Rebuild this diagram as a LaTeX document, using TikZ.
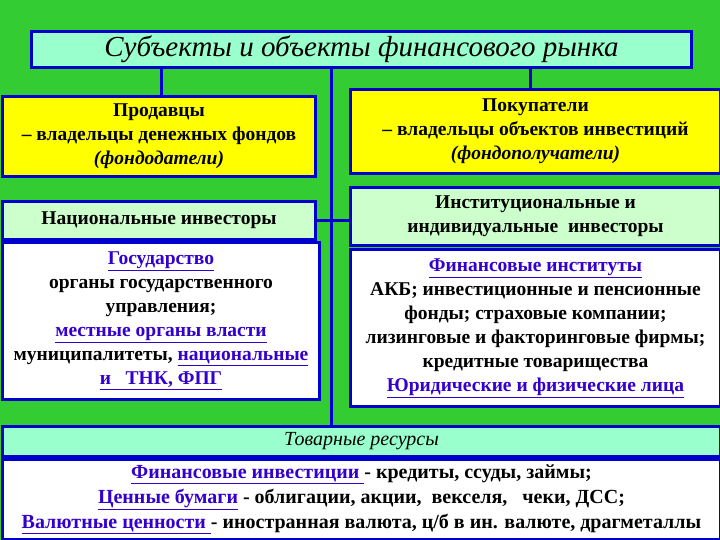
\documentclass[tikz,border=0pt]{standalone}
\usepackage{fontspec}
\setmainfont{Liberation Serif}
\definecolor{bg}{RGB}{51,204,51}
\definecolor{bl}{RGB}{0,0,204}
\definecolor{cy}{RGB}{153,255,204}
\definecolor{lg}{RGB}{204,255,204}
\definecolor{ye}{RGB}{255,255,0}
\definecolor{lk}{RGB}{51,0,204}
\newcommand{\lnk}[1]{\textcolor{lk}{\underline{#1}}}
\begin{document}
\begin{tikzpicture}[x=1pt,y=-1pt,
  bx/.style={draw=bl,line width=3pt,anchor=north west,inner sep=0pt,align=center,font=\bfseries\fontsize{19.5}{24}\selectfont},
  ln/.style={draw=bl,line width=3pt}]
\fill[bg] (0,0) rectangle (720,540);
\useasboundingbox (0,0) rectangle (720,540);
\node[bx,fill=cy,minimum width=660,minimum height=36,font=\itshape\fontsize{29}{30}\selectfont] (title) at (30,30) {Субъекты и объекты финансового рынка};
\node[bx,fill=ye,minimum width=313,minimum height=80] (sell) at (1,95) {Продавцы\\– владельцы денежных фондов\\\textit{(фондодатели)}};
\node[bx,fill=ye,minimum width=370,minimum height=84] (buy) at (349,88) {Покупатели\\– владельцы объектов инвестиций\\\textit{(фондополучатели)}};
\node[bx,fill=lg,minimum width=313,minimum height=38] (nat) at (1,200) {Национальные инвесторы};
\node[bx,fill=lg,minimum width=370,minimum height=58] (inst) at (349,186) {Институциональные и\\индивидуальные\ \ инвесторы};
\node[bx,fill=white,minimum width=317,minimum height=157] (gov) at (1,241) {\lnk{Государство}\\органы государственного\\управления;\\\lnk{местные органы власти}\\муниципалитеты, \lnk{национальные}\\\lnk{и\ \ \ ТНК, ФПГ}};
\node[bx,fill=white,minimum width=370,minimum height=157] (fin) at (349,248) {\lnk{Финансовые институты}\\АКБ;\ инвестиционные и пенсионные\\фонды; страховые компании;\\лизинговые и\ факторинговые фирмы;\\кредитные товарищества\\\lnk{Юридические и физические лица}};
\node[bx,fill=cy,minimum width=718,minimum height=30,font=\itshape\fontsize{20}{22}\selectfont] (tov) at (1,425) {Товарные ресурсы};
\node[bx,fill=white,minimum width=718,minimum height=80,font=\bfseries\fontsize{20}{25}\selectfont] (res) at (1,458) {\lnk{Финансовые инвестиции }- кредиты, ссуды, займы;\\\lnk{Ценные бумаги} - облигации, акции,\ \ векселя,\ \ \ чеки, ДСС;\\\lnk{Валютные ценности }- иностранная валюта, ц/б в ин. валюте, драгметаллы};
\draw[ln] (title.south -| 161,0) -- (sell.north -| 161,0);
\draw[ln] (title.south -| 530,0) -- (buy.north -| 530,0);
\draw[ln] (title.south -| 331,0) -- (tov.north -| 331,0);
\draw[ln] (nat.east) -- (nat.east -| inst.west);
\end{tikzpicture}
\end{document}
